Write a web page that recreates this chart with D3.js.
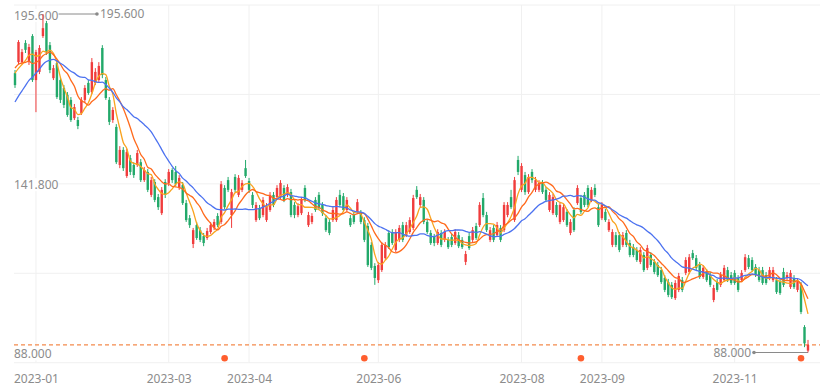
<!DOCTYPE html>
<html><head><meta charset="utf-8">
<script src="https://cdn.jsdelivr.net/npm/d3@7"></script>
<style>html,body{margin:0;padding:0;background:#fff;}svg{display:block;}</style>
</head><body>
<svg id="c" width="832" height="386"></svg>
<script>
// ---- data ----
const open = [
176.8,180.3,180.3,186.4,180.3,188.6,174.6,177.2,188.6,192.7,
185.7,175.2,180.0,174.6,172.1,169.9,168.3,162.5,161.9,164.1,
168.3,173.7,170.8,173.7,174.6,184.8,174.6,168.3,161.9,159.7,
147.6,152.4,144.1,149.8,147.6,147.6,148.5,142.8,145.4,138.1,
142.2,137.4,132.3,142.2,141.9,146.0,145.4,140.3,141.2,135.5,
130.7,122.5,128.5,126.9,125.0,124.4,126.3,127.6,131.4,129.5,
140.3,142.8,131.7,143.8,138.1,139.7,146.6,142.5,138.1,130.1,
133.9,131.7,130.1,133.3,138.1,137.4,137.4,140.3,138.1,139.0,
134.9,131.7,132.3,140.3,128.5,129.5,136.5,138.1,134.9,130.7,
129.5,130.1,130.1,138.1,137.7,133.3,130.7,131.7,132.7,132.3,
130.1,128.2,122.2,115.5,111.0,114.2,118.0,126.0,126.3,120.6,
123.8,128.5,125.3,126.3,127.6,139.7,134.9,136.5,129.5,126.0,
124.7,122.8,126.0,123.8,123.8,124.7,122.8,125.3,123.8,116.8,
125.0,123.8,128.2,128.5,137.1,131.7,123.8,127.6,125.3,127.6,
126.9,131.7,137.4,130.1,149.2,139.7,144.4,139.0,145.4,139.7,
139.7,141.9,139.7,133.3,132.3,134.9,129.5,130.1,132.7,126.0,
133.3,135.5,137.1,138.1,140.3,136.5,140.3,134.2,130.7,132.7,
126.9,122.2,125.3,125.3,122.2,126.0,122.8,121.5,120.6,116.8,
119.0,114.9,119.0,116.8,115.8,114.2,111.7,110.4,109.5,105.3,
107.9,111.0,113.3,113.6,119.6,118.0,115.8,112.0,113.6,112.6,
104.7,110.4,109.5,111.0,114.2,112.6,113.3,111.7,111.0,114.2,
118.0,117.4,115.2,114.2,114.2,112.6,111.7,111.0,111.0,110.4,
113.6,111.7,108.8,111.7,107.9,109.5,96.1,88.6];
const close = [
173.0,186.7,183.5,184.2,185.1,174.6,183.5,184.8,191.1,183.5,
177.8,178.4,169.2,168.3,166.7,163.5,161.9,166.0,160.0,168.3,
172.1,170.5,180.3,177.2,179.1,176.2,168.9,161.3,165.1,148.5,
152.4,146.6,151.7,145.4,144.4,151.4,142.8,146.0,139.7,142.8,
136.5,134.2,139.7,138.1,145.4,142.8,141.5,143.5,135.5,130.1,
128.5,126.9,124.4,123.8,122.8,126.6,128.5,129.5,128.5,141.5,
134.2,139.7,139.0,139.7,143.5,141.9,144.1,139.7,134.9,134.9,
130.7,136.5,134.5,138.1,134.9,140.3,141.9,136.5,140.6,131.7,
131.7,134.5,136.5,136.5,131.7,131.4,133.3,133.9,132.3,126.9,
126.0,133.3,136.5,134.9,133.3,136.5,128.5,129.5,135.8,129.5,
123.8,115.8,114.9,111.7,115.8,122.2,122.2,121.5,122.8,126.3,
127.6,123.8,128.5,130.1,137.1,137.4,137.4,129.5,126.3,122.8,
122.8,126.3,122.2,126.3,121.5,122.2,126.3,121.8,121.5,119.3,
121.2,126.9,124.4,134.9,131.7,126.9,126.9,123.8,128.5,123.8,
134.9,134.9,134.2,142.8,145.4,147.3,139.0,143.8,142.8,142.8,
141.9,139.0,136.5,138.1,137.4,131.7,134.9,134.2,128.5,129.5,
126.9,140.3,132.7,134.9,134.9,139.7,138.1,128.5,134.9,130.1,
129.5,126.3,122.2,120.6,125.3,122.2,119.0,119.0,117.4,120.6,
114.2,121.2,115.8,113.6,112.6,110.4,107.9,106.3,105.6,110.1,
112.3,107.9,117.4,118.3,118.0,114.9,112.0,114.9,111.0,109.5,
108.5,107.9,112.6,114.9,111.0,110.1,110.1,107.9,113.3,118.3,
115.2,114.2,112.6,111.0,110.1,110.1,114.2,114.2,107.2,106.9,
109.5,112.6,113.3,108.8,110.4,100.9,90.9,90.4];
const high = [
177.8,187.3,184.5,187.3,186.1,189.2,184.2,185.7,195.6,193.4,
186.7,179.4,181.0,175.6,173.0,170.8,169.2,167.0,162.9,169.2,
173.0,174.6,181.6,178.4,180.3,185.7,175.6,169.2,166.0,160.6,
153.6,153.3,152.7,150.8,148.5,152.4,149.5,147.0,146.3,143.8,
143.1,138.4,140.6,143.1,146.3,146.6,147.3,144.4,142.2,136.5,
131.7,127.6,129.5,127.9,126.0,127.6,129.5,130.4,132.3,142.5,
141.2,143.8,140.0,144.7,144.4,142.8,149.2,143.5,139.0,135.8,
134.9,137.4,135.5,139.0,139.0,141.2,142.8,141.2,141.5,140.0,
135.8,135.5,137.4,141.2,132.7,132.3,137.4,139.0,135.8,131.7,
130.4,134.2,137.4,139.7,138.7,137.4,131.7,132.7,136.8,133.3,
131.0,129.2,123.1,116.4,116.8,123.1,123.1,126.9,127.2,127.2,
128.5,129.5,129.5,131.0,138.1,140.9,138.4,137.4,130.4,126.9,
125.7,127.2,126.9,127.2,124.7,125.7,127.2,126.3,124.7,120.3,
126.0,127.9,129.2,135.8,138.7,132.7,127.9,128.5,129.5,128.5,
135.8,135.8,139.7,143.8,150.5,148.2,145.4,144.7,146.3,143.8,
142.8,142.8,140.6,139.0,138.4,135.8,135.8,135.2,133.6,130.4,
134.2,141.2,138.1,139.0,141.2,140.6,141.5,135.2,135.8,133.6,
130.4,127.2,126.3,126.3,126.3,126.9,123.8,122.5,121.5,121.5,
119.9,122.2,119.9,117.7,116.8,115.2,112.6,111.4,110.4,111.0,
113.3,112.0,118.3,119.3,120.6,119.0,116.8,115.8,114.5,113.6,
109.5,111.4,113.6,115.8,115.2,113.6,114.2,112.6,114.2,119.3,
119.0,118.3,116.1,115.2,115.2,113.6,115.2,115.2,112.0,111.4,
114.9,113.6,114.2,112.6,111.4,110.4,96.7,92.0];
const low = [
172.1,179.7,179.7,183.2,179.4,174.0,164.4,176.5,188.0,182.6,
176.8,174.6,168.6,167.3,165.7,162.9,161.3,161.9,159.0,163.5,
167.6,169.9,170.2,173.0,174.0,175.2,168.3,160.3,161.0,147.9,
146.6,145.7,143.5,144.4,143.5,147.0,142.2,142.2,139.0,137.4,
135.8,133.3,131.7,137.1,140.9,141.9,140.9,139.7,134.9,129.5,
127.6,121.2,123.8,123.1,121.8,123.8,125.7,126.9,127.9,128.8,
133.6,139.0,127.6,139.0,137.4,139.0,143.5,138.7,133.9,129.5,
130.1,131.0,129.5,132.7,134.2,136.8,136.8,135.8,137.4,131.0,
130.7,131.0,131.7,135.8,127.9,128.8,132.7,133.3,131.4,126.3,
125.3,129.5,129.5,134.2,132.7,132.7,127.9,128.8,132.0,128.8,
123.1,115.2,114.2,109.5,110.1,113.6,117.4,120.9,122.2,119.9,
123.1,123.1,124.7,125.7,126.9,136.8,134.2,128.8,125.7,122.2,
121.8,122.2,121.5,123.1,120.9,121.5,122.2,121.2,120.9,115.8,
120.6,123.1,123.8,127.9,131.0,126.3,123.1,123.1,124.7,123.1,
126.3,131.0,133.6,129.5,144.4,139.0,138.1,138.4,141.9,139.0,
139.0,138.4,135.8,132.7,131.7,131.0,128.8,129.5,127.9,125.3,
126.3,134.9,132.0,134.2,134.2,135.8,137.4,127.9,130.1,129.5,
126.3,121.5,121.5,119.9,121.5,121.5,118.3,118.3,116.8,116.1,
113.6,114.2,115.2,112.9,112.0,109.8,107.2,105.6,105.0,104.7,
107.2,107.2,112.6,112.9,117.4,114.2,111.4,111.4,110.4,108.8,
104.0,107.2,108.8,110.4,110.4,109.5,109.5,107.2,110.4,113.6,
114.5,113.6,112.0,110.4,109.5,109.5,111.0,110.4,106.6,106.3,
108.8,111.0,108.2,108.2,107.2,100.2,89.7,88.0];
// closes before the first visible day, used only to seed the moving averages
const priorCloses = [149.2,149.8,150.8,152.4,154.0,157.1,159.4,161.9,165.1,168.3,
174.6,179.4,182.6,181.0,182.6,179.4,177.2,177.8,176.8];
const maWindows = [5, 10, 20];
const maColors = ['#F9A31E', '#FF6A1C', '#4C72F0'];
const xTickLabels = ['2023-01','2023-03','2023-04','2023-06','2023-08','2023-09','2023-11'];
const xTickIndex = [6, 44, 67, 104, 145, 168, 206];
const yTickValues = [195.6, 141.8, 88.0];
const markerIndex = [60, 100, 162, 225];

// ---- layout ----
const N = open.length;
const categories = d3.range(N);
const plot = {left: 14, right: 820, top: 5, bottom: 362.7};
const UP = '#F03C3C', DOWN = '#22A96A', GRID = '#F0F0F0', TXT = '#8C8C8C';
const FONT = '"Noto Sans", "Liberation Sans", sans-serif';

const svg = d3.select('#c');
const x = d3.scaleLinear().domain([0, N - 1]).range([15, 808]);
const maxH = d3.max(high), minL = d3.min(low), span = maxH - minL;
const y = d3.scaleLinear().domain([minL - span * 0.0301, maxH + span * 0.0266])
  .range([plot.bottom, plot.top]);

// grid
const dom = y.domain();
const gridVals = d3.range(5).map(k => dom[0] + k * (dom[1] - dom[0]) / 4);
svg.append('g').selectAll('line').data(gridVals).join('line')
  .attr('x1', plot.left).attr('x2', plot.right)
  .attr('y1', d => y(d)).attr('y2', d => y(d))
  .attr('stroke', GRID).attr('stroke-width', 1);
svg.append('g').selectAll('line').data(xTickIndex).join('line')
  .attr('x1', d => x(d)).attr('x2', d => x(d))
  .attr('y1', plot.top).attr('y2', plot.bottom)
  .attr('stroke', GRID).attr('stroke-width', 1);

// last price dashed line
const lastPrice = close[N - 1];
svg.append('line')
  .attr('x1', plot.left).attr('x2', plot.right)
  .attr('y1', y(lastPrice)).attr('y2', y(lastPrice))
  .attr('stroke', '#F48A4C').attr('stroke-width', 1.2).attr('stroke-dasharray', '4,3');

// max / min annotations
const iMax = d3.maxIndex(high), iMin = d3.minIndex(low);
const ann = svg.append('g');
function annotate(i, v, dir) {
  const x0 = x(i), x1 = x0 + dir * 54, yy = y(v);
  ann.append('line').attr('x1', x0).attr('x2', x1).attr('y1', yy).attr('y2', yy)
    .attr('stroke', '#8a8a8a').attr('stroke-width', 1);
  ann.append('circle').attr('cx', x1).attr('cy', yy).attr('r', 1.8).attr('fill', '#8a8a8a');
  ann.append('text').attr('x', x1 + dir * 3).attr('y', yy).attr('dy', '0.35em')
    .attr('text-anchor', dir > 0 ? 'start' : 'end')
    .attr('font-family', FONT).attr('font-size', 12).attr('fill', TXT)
    .text(v.toFixed(3));
}
annotate(iMax, maxH, 1);
annotate(iMin, minL, -1);

// y axis labels (inside plot, left)
const yAxis = svg.append('g').attr('transform', `translate(${plot.left},0)`)
  .call(d3.axisRight(y).tickValues(yTickValues).tickSize(0).tickPadding(0)
    .tickFormat(d => d.toFixed(3)));
yAxis.select('.domain').remove();
yAxis.selectAll('text').attr('font-family', FONT).attr('font-size', 12)
  .attr('fill', TXT).attr('y', 1.2).attr('dy', '0.35em');
yAxis.selectAll('.tick').each(function () {
  const t = d3.select(this).select('text').node().getBBox();
  d3.select(this).insert('rect', 'text').attr('x', t.x).attr('y', t.y + 2)
    .attr('width', t.width).attr('height', t.height - 4).attr('fill', '#fff');
});

// x axis labels
const xAxis = svg.append('g').attr('transform', `translate(0,${plot.bottom})`)
  .call(d3.axisBottom(x).tickValues(xTickIndex).tickSize(0)
    .tickFormat((d, i) => xTickLabels[i]));
xAxis.select('.domain').remove();
xAxis.selectAll('text').attr('font-family', FONT).attr('font-size', 12)
  .attr('fill', TXT).attr('y', 16.3).attr('dy', '0.35em');

// candles
const cg = svg.append('g');
const bw = 2.4;
const cand = cg.selectAll('g').data(categories).join('g');
cand.append('line')
  .attr('x1', i => x(i)).attr('x2', i => x(i))
  .attr('y1', i => y(high[i])).attr('y2', i => y(low[i]))
  .attr('stroke', i => close[i] >= open[i] ? UP : DOWN).attr('stroke-width', 1);
cand.append('rect')
  .attr('x', i => x(i) - bw / 2).attr('width', bw)
  .attr('y', i => y(Math.max(open[i], close[i])))
  .attr('height', i => Math.max(1, Math.abs(y(open[i]) - y(close[i]))))
  .attr('fill', i => close[i] >= open[i] ? UP : DOWN);

// moving averages
const all = priorCloses.concat(close);
const P = priorCloses.length;
maWindows.forEach((w, k) => {
  const vals = categories.map(i => d3.mean(all.slice(P + i - w + 1, P + i + 1)));
  svg.append('path').datum(vals)
    .attr('fill', 'none').attr('stroke', maColors[k]).attr('stroke-width', 1.3)
    .attr('d', d3.line().x((d, i) => x(i)).y(d => y(d)).curve(d3.curveMonotoneX));
});

// event markers
svg.append('g').selectAll('circle').data(markerIndex).join('circle')
  .attr('cx', i => x(i)).attr('cy', plot.bottom - 4.4).attr('r', 3.3)
  .attr('fill', '#FF5E2E');
</script>
</body></html>
